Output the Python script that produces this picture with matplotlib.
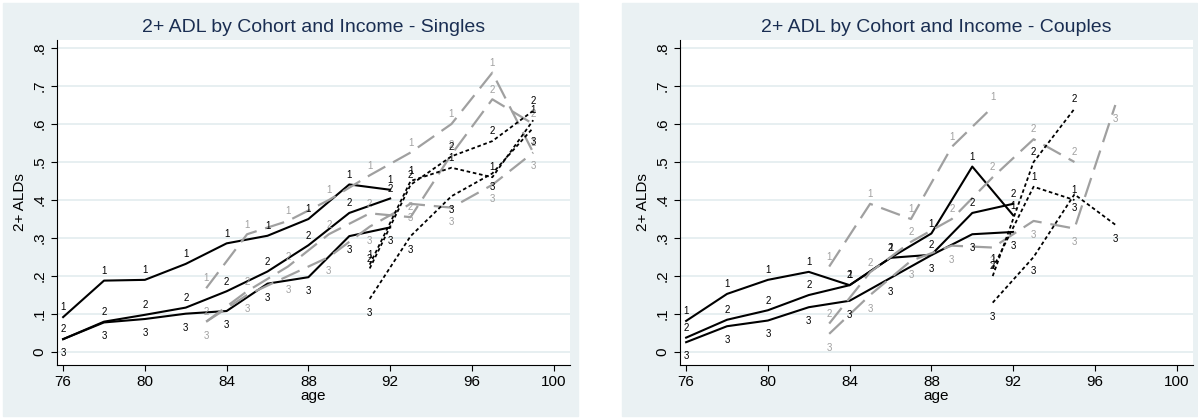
import matplotlib.pyplot as plt
from matplotlib.patches import Rectangle
import numpy as np

plt.rcParams['font.family'] = ['Liberation Sans', 'DejaVu Sans']

# cohorts: solid (born earliest), dashed gray, dotted
age_a = [76, 78, 80, 82, 84, 86, 88, 90, 92]
age_b = [83, 85, 87, 89, 91, 93, 95, 97, 99]
age_c = [91, 93, 95, 97, 99]

# singles
s_a1 = [.092, .188, .190, .232, .286, .306, .350, .441, .427]
s_a2 = [.034, .080, .098, .117, .160, .212, .281, .366, .404]
s_a3 = [.034, .078, .087, .101, .108, .180, .197, .305, .328]
s_b1 = [.168, .310, .345, .400, .465, .525, .600, .735, .525]
s_b2 = [.080, .160, .225, .310, .365, .355, .520, .665, .600]
s_b3 = [.080, .150, .200, .250, .330, .390, .380, .440, .525]
s_c1 = [.230, .450, .485, .460, .610]
s_c2 = [.220, .440, .515, .555, .635]
s_c3 = [.140, .305, .410, .470, .590]

# couples
c_a1 = [.082, .153, .190, .211, .176, .248, .312, .488, .360]
c_a2 = [.038, .085, .110, .150, .176, .248, .256, .366, .390]
c_a3 = [.026, .068, .083, .118, .135, .195, .255, .310, .316]
c_b1 = [.225, .390, .350, .540, .645]
c_b2 = [.075, .210, .290, .350, .460, .560, .500]
c_b3 = [.048, .150, .240, .280, .275, .345, .325, .650]
c_c1 = [.220, .435, .400]
c_c2 = [.200, .500, .640]
c_c3 = [.130, .250, .415, .335]

panels = [
    ("2+ ADL by Cohort and Income - Singles",
     [(age_a, s_a1, s_a2, s_a3), (age_b, s_b1, s_b2, s_b3), (age_c, s_c1, s_c2, s_c3)]),
    ("2+ ADL by Cohort and Income - Couples",
     [(age_a, c_a1, c_a2, c_a3), (age_b, c_b1, c_b2, c_b3), (age_c, c_c1, c_c2, c_c3)]),
]
styles = [
    dict(color="black", ls="-", lw=1.5),
    dict(color="#a0a0a0", ls=(0, (9, 4)), lw=1.6),
    dict(color="black", ls=(0, (2, 1.5)), lw=1.3),
]
label_cols = ["black", "#a0a0a0", "black"]

W, H = 1198, 419
fig = plt.figure(figsize=(W / 100, H / 100), dpi=100)
bg = "#eaf1f3"
title_col = "#1a2e52"
for x0 in [3, 622]:
    fig.patches.append(Rectangle((x0 / W, 3 / H), 575 / W, 413 / H,
                                 transform=fig.transFigure, color=bg, zorder=-10))

for k, (title, cohorts) in enumerate(panels):
    left = [57, 680][k]
    ax = fig.add_axes([left / W, (H - 365) / H, 513 / W, 325 / H])
    ax.set_xlim(75.7, 100.8)
    ax.set_ylim(-0.034, 0.821)
    for j, (ages, *series) in enumerate(cohorts):
        for i, vals in enumerate(series):
            x = ages[:len(vals)]
            ax.plot(x, vals, **styles[j], zorder=3)
            off = -10 if i == 2 else 7
            for xx, yy in zip(x, vals):
                ax.annotate(str(i + 1), (xx, yy), xytext=(0, off), textcoords="offset points",
                            ha="center", va="center", fontsize=7, color=label_cols[j], zorder=4)
    yt = np.arange(0, 0.81, 0.1)
    ax.set_yticks(yt)
    ax.set_yticklabels(["0"] + [f"{v:.1f}"[1:] for v in yt[1:]], rotation=90, va="center")
    ax.set_xticks([76, 80, 84, 88, 92, 96, 100])
    ax.grid(axis="y", color="#e3ecef", lw=1.2)
    ax.set_axisbelow(True)
    for s in ["top", "right"]:
        ax.spines[s].set_visible(False)
    ax.tick_params(labelsize=11, length=4)
    ax.set_xlabel("age", fontsize=11, labelpad=0)
    ax.set_ylabel("2+ ALDs", fontsize=11)
    ax.set_title(title, fontsize=14, color=title_col, pad=6)

fig.savefig("out.png", dpi=100)
